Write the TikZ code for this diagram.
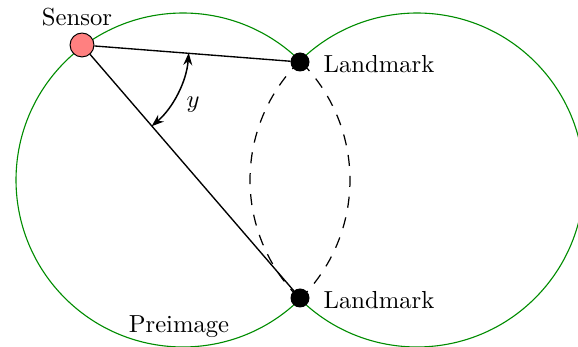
\documentclass[tikz,border=0pt]{standalone}
\usepackage{amsmath,amssymb}
\usetikzlibrary{arrows.meta}

\begin{document}
\begin{tikzpicture}[x=0.4057pt,y=0.4057pt]
\tikzset{
  sensornode/.style={circle,draw,fill=red!50,minimum size=9.7pt,inner sep=0pt},
  landmarknode/.style={circle,draw,fill=black,minimum size=7.3pt,inner sep=0pt},
  rangearc/.style={green!55!black,line width=0.45pt},
  hiddenarc/.style={dash pattern=on 4.5pt off 4pt,line width=0.5pt},
  anglearrow/.style={{Stealth[length=5pt,width=3.6pt,inset=1.6pt]}-{Stealth[length=5pt,width=3.6pt,inset=1.6pt]},line width=0.6pt}
}
\clip (0,0) rectangle (578,-347);
\useasboundingbox (0,0) rectangle (578,-347);
\coordinate (c_A) at (183,-180);
\coordinate (c_B) at (417,-180);
% range circles
\draw[rangearc] (c_A) ++(45.5:167) arc[start angle=45.5,end angle=314.5,radius=167];
\draw[rangearc] (c_B) ++(225.5:167) arc[start angle=225.5,end angle=494.5,radius=167];
\draw[hiddenarc] (c_A) ++(-45.5:167) arc[start angle=-45.5,end angle=45.5,radius=167];
\draw[hiddenarc] (c_B) ++(134.5:167) arc[start angle=134.5,end angle=225.5,radius=167];
\node[sensornode] (n_s) at (82,-45) {};
\node[landmarknode] (n_l1) at (300,-62) {};
\node[landmarknode] (n_l2) at (300,-298) {};
\draw[line width=0.55pt] (n_s) -- (n_l1);
\draw[line width=0.55pt] (n_s) -- (n_l2);
% bearing angle
\draw[anglearrow] (n_s.center) ++(-4.2:107) arc[start angle=-4.2,end angle=-49.4,radius=107];
\node (t_y) at (193,-105) {$y$};
\node (t_s) at (77,-17) {Sensor};
\node[anchor=west] (t_l1) at (315,-64) {Landmark};
\node[anchor=west] (t_l2) at (315,-300) {Landmark};
\node (t_p) at (179,-327) {Preimage};
\end{tikzpicture}
\end{document}
